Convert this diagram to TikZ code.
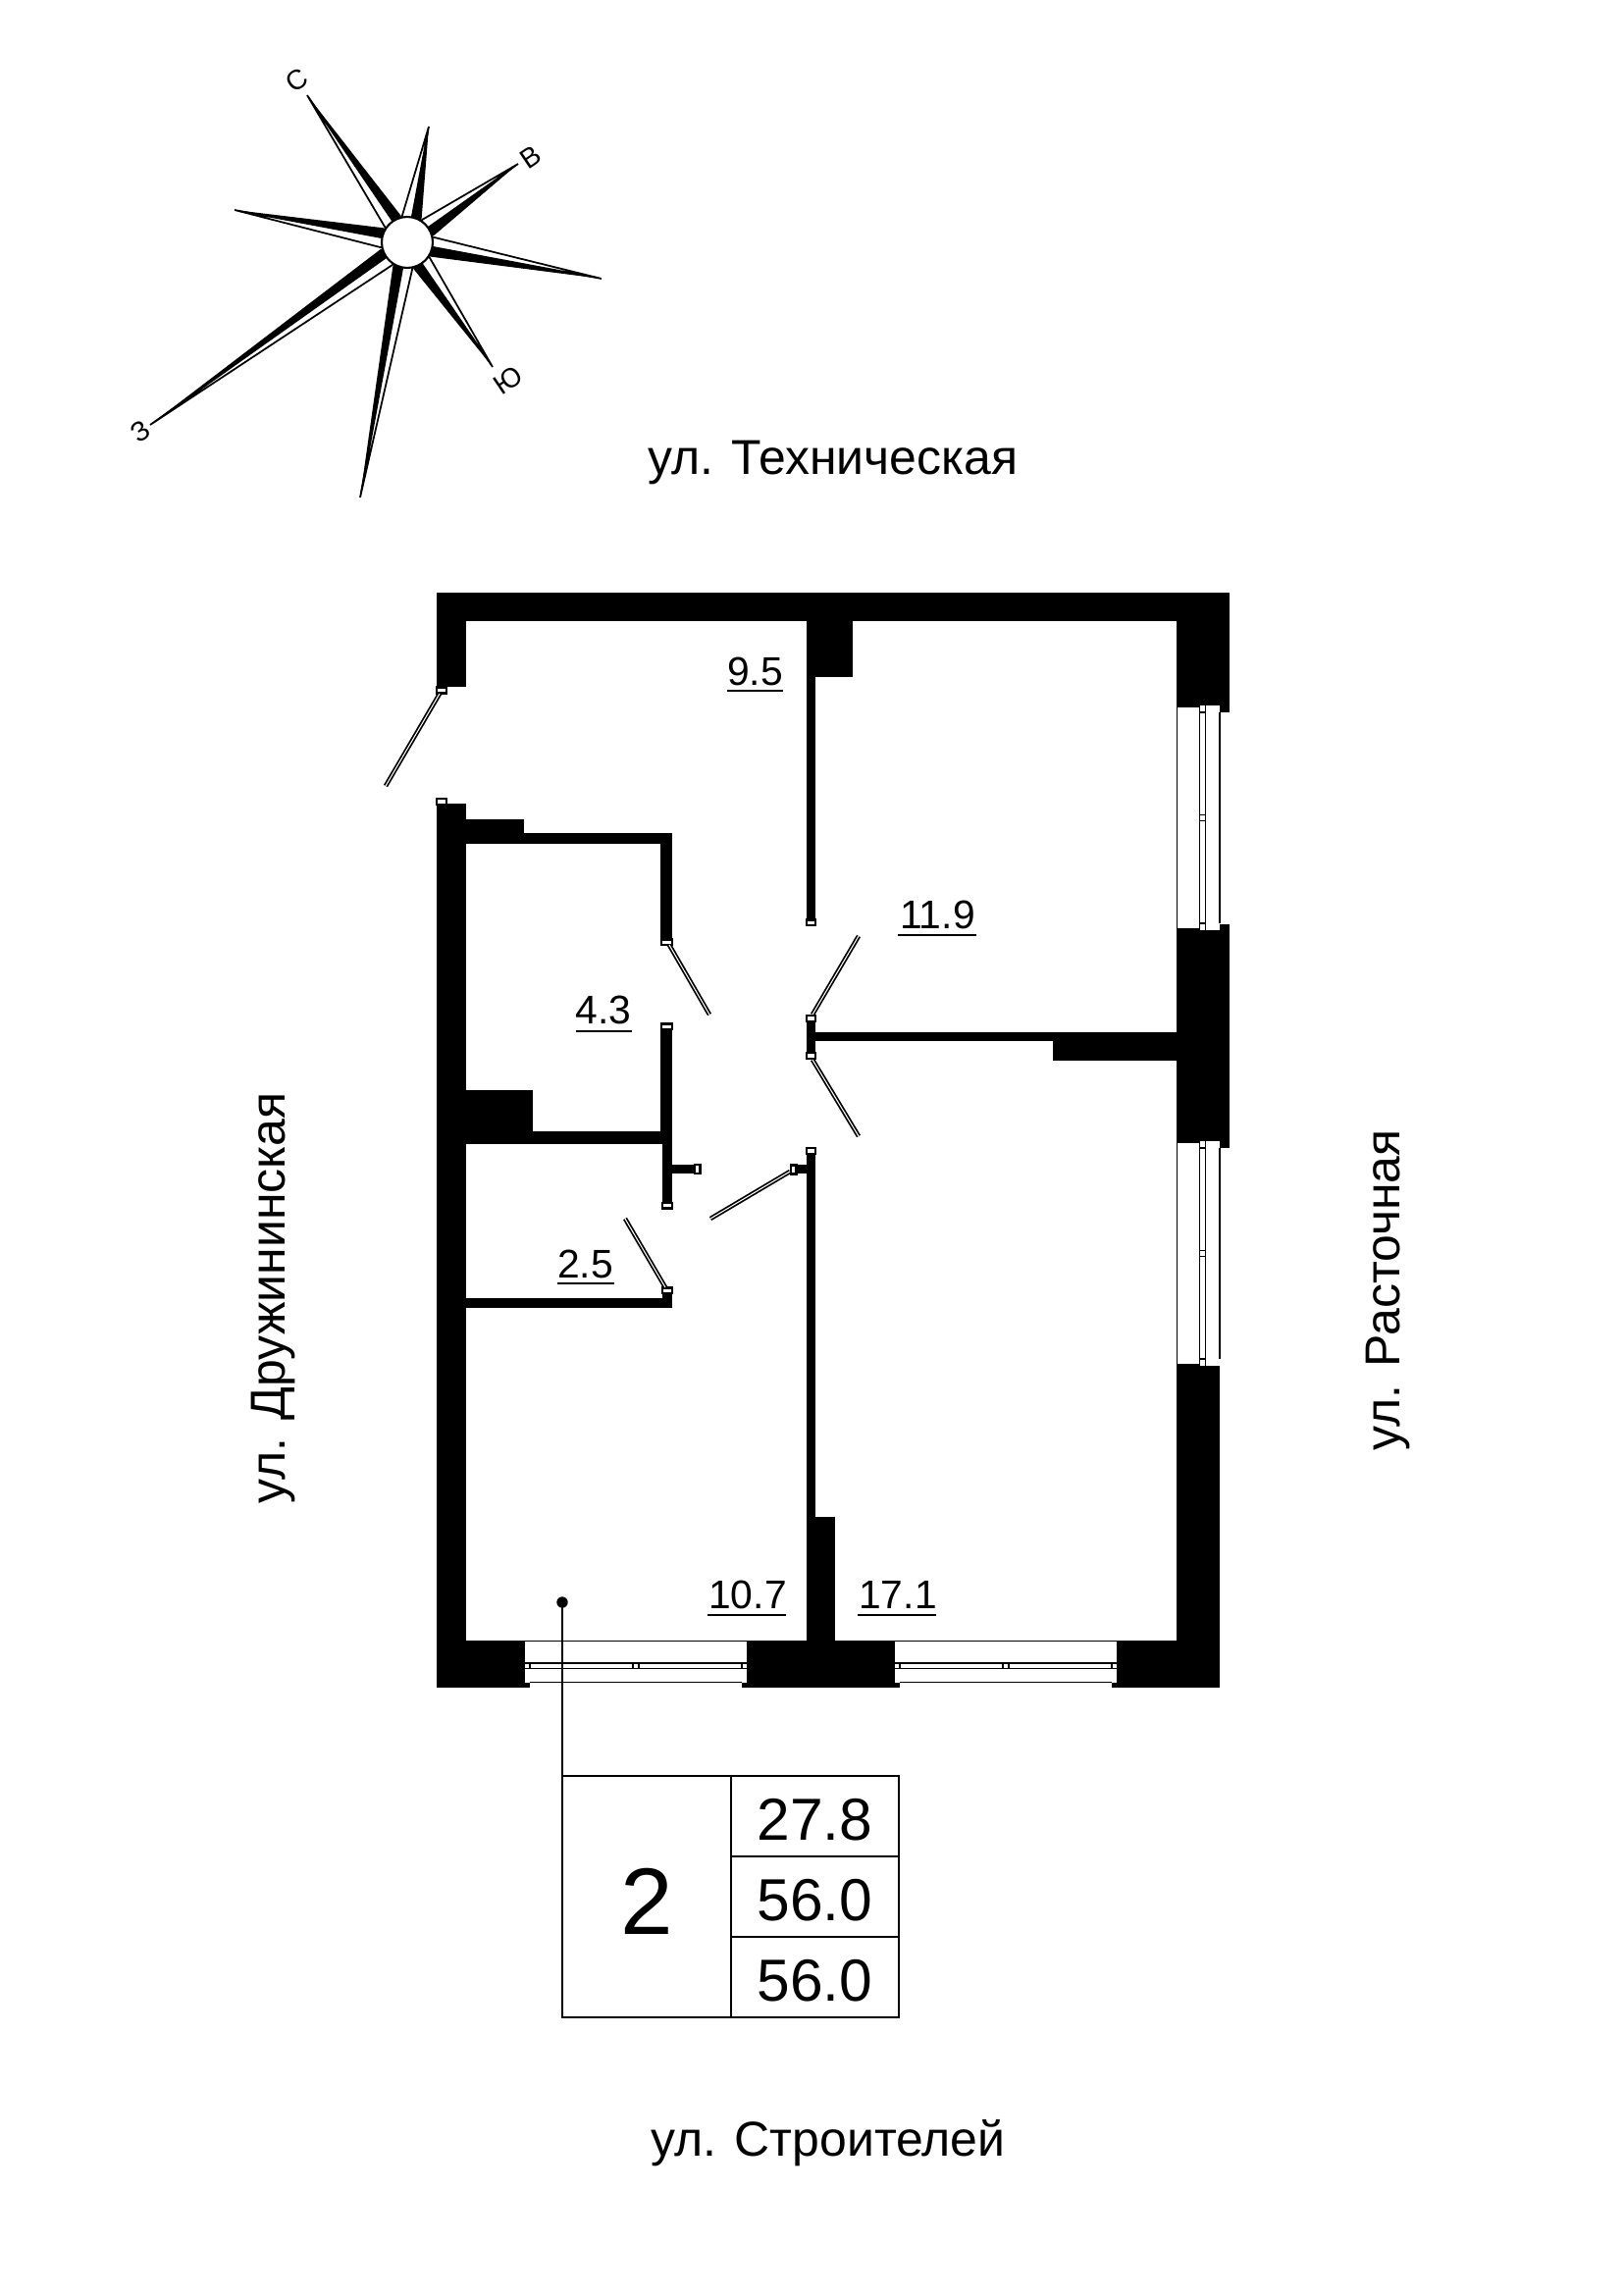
\documentclass[tikz,border=0pt]{standalone}
\usepackage{fontspec}
\setmainfont{Liberation Sans}
\usetikzlibrary{calc}

\tikzset{
  leaf/.style={draw=black, double=white, line width=0.5pt, double distance=0.3pt},
  hinge/.style={draw=black, fill=white, line width=0.6pt},
  frame/.style={draw=black, line width=0.55pt},
  cell/.style={draw=black, line width=0.75pt, inner sep=0pt, outer sep=0pt, anchor=north west},
  sizecell/.style={cell, minimum width=1.71cm, minimum height=0.82cm, text height=13.9pt, text depth=0pt,
    font=\fontsize{17.2}{18}\selectfont},
  area/.style={inner sep=0pt, font=\fontsize{11.6}{12}\selectfont},
  street/.style={inner sep=0pt, anchor=base, font=\fontsize{14.2}{15}\selectfont},
  side/.style={inner sep=0pt, rotate=34, font=\fontsize{8}{9}\selectfont}
}

% window on the right wall: top and bottom of the opening
\newcommand{\winV}[2]{
  \fill[white] (1199,#1) rectangle (1243,#2);
  \draw[frame] (1199.5,#1) -- (1199.5,#2);
  \draw[frame] (1199,#1+1) -- (1222,#1+1);
  \draw[frame] (1199,#2-1) -- (1222,#2-1);
  \draw[frame] (1222.5,#1) -- (1222.5,#2);
  \draw[frame] (1228.5,#1) -- (1228.5,#2);
  \draw[frame] (1243,#1+7) -- (1243,#2-7);
  \draw[frame] (1222,#1+7) -- (1229,#1+7);
  \draw[frame] (1222,#2-7) -- (1229,#2-7);
  \draw[frame] (1222,{(#1+#2)/2-3}) -- (1229,{(#1+#2)/2-3});
  \draw[frame] (1222,{(#1+#2)/2+3}) -- (1229,{(#1+#2)/2+3});
}
% window on the bottom wall: left and right of the opening
\newcommand{\winH}[2]{
  \fill[white] (#1,1672) rectangle (#2,1715);
  \draw[frame] (#1,1672.5) -- (#2,1672.5);
  \draw[frame] (#1,1695) -- (#2,1695);
  \draw[frame] (#1,1700.5) -- (#2,1700.5);
  \draw[frame] (#1+5,1714.5) -- (#2-5,1714.5);
  \draw[frame] (#1+5,1695) -- (#1+5,1700);
  \draw[frame] (#2-5,1695) -- (#2-5,1700);
  \draw[frame] ({(#1+#2)/2-3},1695) -- ({(#1+#2)/2-3},1700);
  \draw[frame] ({(#1+#2)/2+3},1695) -- ({(#1+#2)/2+3},1700);
}

\begin{document}
\begin{tikzpicture}[x=0.01cm, y=-0.01cm]
  \useasboundingbox (0,0) rectangle (1654,2339);

  % Outer walls
  \fill[black] (445,604) rectangle (1253,633);
  \fill[black] (445,604) rectangle (475,700);
  \fill[black] (445,819) rectangle (475,1720);
  \fill[black] (1199,604) rectangle (1253,726);
  \fill[black] (1199,942) rectangle (1253,1170);
  \fill[black] (1199,1386) rectangle (1243,1720);
  \fill[black] (445,1672) rectangle (540,1720);
  \fill[black] (756,1672) rectangle (917,1720);
  \fill[black] (1133,1672) rectangle (1243,1720);

  % Inner walls
  \fill[black] (822,633) rectangle (869,690);
  \fill[black] (822,633) rectangle (831,940);
  \fill[black] (822,1038) rectangle (831,1076);
  \fill[black] (831,1052) rectangle (1199,1061);
  \fill[black] (1073,1052) rectangle (1199,1081);
  \fill[black] (822,1173) rectangle (831,1672);
  \fill[black] (822,1546) rectangle (851,1672);
  \fill[black] (475,835) rectangle (534,860);
  \fill[black] (475,849) rectangle (685,860);
  \fill[black] (673,849) rectangle (685,960);
  \fill[black] (673,1046) rectangle (685,1166);
  \fill[black] (475,1111) rectangle (543,1166);
  \fill[black] (475,1153) rectangle (685,1166);
  \fill[black] (675,1166) rectangle (685,1228);
  \fill[black] (685,1187) rectangle (710,1196);
  \fill[black] (808,1187) rectangle (822,1196);
  \fill[black] (475,1323) rectangle (685,1333);
  \fill[black] (675,1315) rectangle (685,1333);

  % Windows
  \winV{719}{948}
  \winV{1163}{1392}
  \winH{535}{761}
  \winH{912}{1138}

  % Door hinges
  \draw[hinge] (445,700.5) rectangle (455,706.5);
  \draw[hinge] (445,814) rectangle (455,820);
  \draw[hinge] (674,957.5) rectangle (685,963);
  \draw[hinge] (674,1043.5) rectangle (685,1049);
  \draw[hinge] (822,937.5) rectangle (831,943);
  \draw[hinge] (822,1035) rectangle (831,1041);
  \draw[hinge] (822,1073) rectangle (831,1079);
  \draw[hinge] (822,1170) rectangle (831,1176);
  \draw[hinge] (675,1226) rectangle (685,1231.5);
  \draw[hinge] (708,1187) rectangle (713.5,1196);
  \draw[hinge] (806,1187.5) rectangle (811.5,1196.5);
  \draw[hinge] (675,1312.5) rectangle (685,1318);

  % Door leaves
  \draw[leaf] (448,707) -- (393,801);
  \draw[leaf] (682,963) -- (723,1034);
  \draw[leaf] (828,1034) -- (875,954);
  \draw[leaf] (828,1080) -- (875,1158);
  \draw[leaf] (805,1194) -- (724,1242);
  \draw[leaf] (678,1312) -- (637,1242);

  % Room areas
  \node[area] (areaHall) at (769.5,684) {9.5};
  \node[area] (areaBed) at (955.5,932) {11.9};
  \node[area] (areaBath) at (615,1029.5) {4.3};
  \node[area] (areaWc) at (596.5,1288) {2.5};
  \node[area] (areaKitchen) at (762,1625) {10.7};
  \node[area] (areaLiving) at (915,1625) {17.1};
  \draw[frame] (741,704) -- (798,704);
  \draw[frame] (915,953) -- (995,953);
  \draw[frame] (587,1051) -- (644,1051);
  \draw[frame] (568,1308) -- (626,1308);
  \draw[frame] (721,1646) -- (801,1646);
  \draw[frame] (874,1646) -- (954,1646);

  % Table with the leader
  \coordinate (dot) at (573,1633);
  \fill[black] (dot) circle (5.7);
  \node[cell, minimum width=1.72cm, minimum height=2.46cm, text height=21.8pt, text depth=0pt,
    font=\fontsize{27.4}{28}\selectfont] (rooms) at (573,1810) {2};
  \node[sizecell] (areaLive) at (745,1810) {27.8};
  \node[sizecell] (areaTotal) at (745,1892) {56.0};
  \node[sizecell] (areaAll) at (745,1974) {56.0};
  \draw[cell] (dot) -- (rooms.north west);

  % Streets
  \node[street] (streetTop) at (849,483) {ул. Техническая};
  \node[street] (streetBottom) at (844,2197) {ул. Строителей};
  \node[street, rotate=90] (streetLeft) at (290,1323) {ул. Дружининская};
  \node[street, rotate=90] (streetRight) at (1426,1315) {ул. Расточная};

  % Compass
  \coordinate (hub) at (415,247);
  \foreach \tx/\ty in {313/97, 437/129, 528/167, 613/284, 502/374, 367/507, 153/433, 239/214}{
    \coordinate (tip) at (\tx,\ty);
    \coordinate (base) at ($(hub)!0.26cm!(tip)$);
    \fill[black] (tip) -- ($(base)!0.1cm!-90:(tip)$) -- (hub) -- cycle;
    \filldraw[fill=white, draw=black, line width=0.5pt] (tip) -- ($(base)!0.1cm!90:(tip)$) -- (hub) -- cycle;
  }
  \filldraw[fill=white, draw=black, line width=0.6pt] (hub) circle (26);
  \node[side] (north) at (303,82) {С};
  \node[side] (east) at (541,160) {В};
  \node[side] (south) at (518,388) {Ю};
  \node[side] (west) at (143,440) {З};
\end{tikzpicture}
\end{document}
